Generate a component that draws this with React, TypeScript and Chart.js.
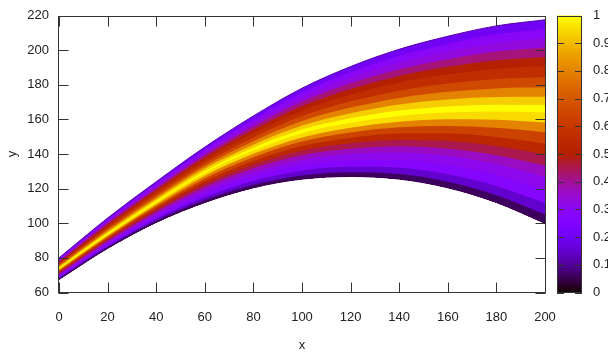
import React, { useEffect, useRef } from "react";
import { Chart, registerables } from "chart.js";

Chart.register(...registerables);

// x positions sampled along every curve
const xValues = [0, 20, 40, 60, 80, 100, 120, 140, 160, 180, 200];

// band boundary curves, from the lower edge of the fan to its upper edge
const lowerEdge = [67.5, 85.5, 100.5, 112, 120.5, 125.5, 127, 125.5, 120.5, 112, 100];
const curve01 = [68.0, 86.1, 101.4, 113.4, 122.2, 127.6, 129.5, 128.4, 124.0, 116.2, 105.1];
const curve02 = [68.6, 86.9, 102.6, 115.1, 124.4, 130.3, 132.6, 132.1, 128.3, 121.5, 111.5];
const curve03 = [69.4, 87.9, 104.0, 117.1, 127.0, 133.5, 136.3, 136.5, 133.6, 127.8, 119.2];
const curve04 = [70.2, 88.9, 105.3, 119.1, 129.5, 136.6, 140.0, 140.8, 138.8, 134.1, 126.9];
const curve05 = [70.8, 89.7, 106.5, 120.8, 131.7, 139.3, 143.1, 144.5, 143.1, 139.3, 133.3];
const curve06 = [71.4, 90.5, 107.6, 122.5, 133.8, 141.9, 146.2, 148.1, 147.5, 144.6, 139.7];
const curve07 = [72.0, 91.3, 108.8, 124.2, 136.0, 144.6, 149.3, 151.8, 151.8, 149.8, 146.1];
const curve08 = [72.7, 92.1, 109.9, 125.9, 138.1, 147.2, 152.4, 155.4, 156.2, 155.1, 152.5];
const curve09 = [73.2, 92.8, 111.0, 127.5, 140.1, 149.6, 155.2, 158.7, 160.1, 159.8, 158.2];
const centerLine = [73.8, 93.5, 112, 129, 142, 152, 158, 162, 164, 164.5, 164];
const curve11 = [74.3, 94.3, 113.0, 130.2, 143.6, 154.1, 160.6, 165.1, 167.5, 168.5, 168.3];
const curve12 = [74.9, 95.1, 114.0, 131.6, 145.4, 156.4, 163.5, 168.6, 171.5, 172.9, 173.1];
const curve13 = [75.5, 96.1, 115.2, 133.1, 147.4, 159.0, 166.8, 172.4, 175.9, 177.9, 178.5];
const curve14 = [76.2, 97.1, 116.6, 134.7, 149.6, 161.9, 170.4, 176.6, 180.7, 183.3, 184.3];
const curve15 = [76.9, 98.3, 118.0, 136.5, 152.0, 165.0, 174.3, 181.3, 186.0, 189.3, 190.8];
const curve16 = [77.5, 99.2, 119.2, 138.0, 154.0, 167.6, 177.5, 185.1, 190.4, 194.2, 196.1];
const curve17 = [78.1, 100.2, 120.4, 139.5, 156.0, 170.2, 180.8, 189.0, 194.8, 199.2, 201.5];
const curve18 = [78.8, 101.1, 121.6, 141.0, 158.0, 172.8, 184.0, 192.8, 199.2, 204.1, 206.8];
const curve19 = [79.4, 102.1, 122.8, 142.5, 160.0, 175.4, 187.3, 196.7, 203.6, 209.1, 212.2];
const upperEdge = [80, 103, 124, 144, 162, 178, 190.5, 200.5, 208, 214, 217.5];

const bandBoundaries = [
  lowerEdge, curve01, curve02, curve03, curve04, curve05, curve06, curve07, curve08, curve09,
  centerLine, curve11, curve12, curve13, curve14, curve15, curve16, curve17, curve18, curve19,
  upperEdge,
];

// colour value of the band lying just above each boundary (bottom to top)
const bandValues = [
  0.06, 0.15, 0.27, 0.31, 0.36, 0.45, 0.54, 0.64, 0.8, 0.95,
  1.0, 0.93, 0.8, 0.66, 0.56, 0.5, 0.42, 0.33, 0.29, 0.2,
];

const xRange = [0, 200];
const yRange = [60, 220];
const colorRange = [0, 1];
const xStep = 20;
const yStep = 20;
const colorStep = 0.1;

function palette(v: number): string {
  const t = Math.min(1, Math.max(0, v));
  const r = Math.sqrt(t);
  const g = t * t * t;
  const b = Math.max(0, Math.sin(2 * Math.PI * t));
  return `rgb(${Math.round(255 * r)},${Math.round(255 * g)},${Math.round(255 * b)})`;
}

const FONT = "'Liberation Sans', Arial, sans-serif";
const FRAME = "#333333";

const decorPlugin = {
  id: "decor",
  afterDraw(chart: any) {
    const { ctx, chartArea } = chart;
    const { left, right, top, bottom } = chartArea;
    const xs = chart.scales.x;
    const ys = chart.scales.y;
    const cb = chart.scales.cb;
    ctx.save();
    ctx.strokeStyle = FRAME;
    ctx.lineWidth = 1;
    const L = Math.round(left) - 0.5;
    const R = Math.round(right) + 0.5;
    const T = Math.round(top) + 0.5;
    const B = Math.round(bottom) - 0.5;
    ctx.strokeRect(L, T, R - L, B - T);
    const tl = 10;
    ctx.beginPath();
    xs.ticks.forEach((t: any) => {
      const px = Math.round(xs.getPixelForValue(t.value)) + 0.5;
      ctx.moveTo(px, B);
      ctx.lineTo(px, B - tl);
      ctx.moveTo(px, T);
      ctx.lineTo(px, T + tl);
    });
    ys.ticks.forEach((t: any) => {
      const py = Math.round(ys.getPixelForValue(t.value)) + 0.5;
      ctx.moveTo(L, py);
      ctx.lineTo(L + tl, py);
      ctx.moveTo(R, py);
      ctx.lineTo(R - tl, py);
    });
    ctx.stroke();

    // colour box
    const bx0 = Math.round(cb.left + 12);
    const bx1 = Math.round(cb.left + 37);
    const by0 = cb.getPixelForValue(colorRange[1]);
    const by1 = cb.getPixelForValue(colorRange[0]);
    const grad = ctx.createLinearGradient(0, by1, 0, by0);
    for (let k = 0; k <= 100; k++) {
      grad.addColorStop(k / 100, palette(k / 100));
    }
    ctx.fillStyle = grad;
    ctx.fillRect(bx0, by0, bx1 - bx0, by1 - by0);
    ctx.strokeStyle = FRAME;
    ctx.strokeRect(bx0 + 0.5, Math.round(by0) + 0.5, bx1 - bx0 - 1, Math.round(by1 - by0) - 1);
    ctx.beginPath();
    cb.ticks.forEach((t: any) => {
      const py = Math.round(cb.getPixelForValue(t.value)) + 0.5;
      ctx.moveTo(bx0, py);
      ctx.lineTo(bx0 + 7, py);
      ctx.moveTo(bx1, py);
      ctx.lineTo(bx1 - 7, py);
    });
    ctx.stroke();
    ctx.restore();
  },
};

export default function App() {
  const ref = useRef<HTMLCanvasElement | null>(null);
  useEffect(() => {
    if (!ref.current) return;
    const last = bandBoundaries.length - 1;
    const datasets = bandBoundaries.map((curve, i) => ({
      data: xValues.map((x, j) => ({ x, y: curve[j] })),
      borderWidth: 1,
      borderColor: i === 0 ? palette(0.05) : i === last ? palette(0.12) : "rgba(0,0,0,0)",
      backgroundColor: i === 0 ? "rgba(0,0,0,0)" : palette(bandValues[i - 1]),
      fill: i === 0 ? false : 0,
      pointRadius: 0,
      cubicInterpolationMode: "monotone" as const,
    }));
    const chart = new Chart(ref.current, {
      type: "line",
      data: { datasets },
      options: {
        animation: false,
        responsive: false,
        devicePixelRatio: 1,
        layout: { padding: { top: 15.5, left: 0, right: 0, bottom: 0 } },
        plugins: { legend: { display: false }, tooltip: { enabled: false } },
        scales: {
          x: {
            type: "linear",
            min: xRange[0],
            max: xRange[1],
            grid: { display: false, drawTicks: true, tickLength: 17 },
            border: { display: false },
            ticks: {
              stepSize: xStep,
              padding: 0,
              color: "#222",
              font: { family: FONT, size: 13 },
              maxRotation: 0,
            },
            title: {
              display: true,
              text: "x",
              color: "#222",
              font: { family: FONT, size: 13 },
              padding: { top: 0, bottom: 1 },
            },
            afterFit(scale: any) {
              scale.height = 61.5;
            },
          },
          y: {
            type: "linear",
            min: yRange[0],
            max: yRange[1],
            grid: { display: false, drawTicks: true, tickLength: 10 },
            border: { display: false },
            ticks: {
              stepSize: yStep,
              padding: 0,
              color: "#222",
              font: { family: FONT, size: 13 },
            },
            title: {
              display: true,
              text: "y",
              color: "#222",
              font: { family: FONT, size: 13 },
              padding: { top: 5, bottom: 0 },
            },
            afterFit(scale: any) {
              scale.width = 59;
            },
          },
          cb: {
            type: "linear",
            position: "right",
            min: colorRange[0],
            max: colorRange[1],
            grid: { display: false, drawTicks: true, tickLength: 48 },
            border: { display: false },
            ticks: {
              stepSize: colorStep,
              padding: 0,
              color: "#222",
              font: { family: FONT, size: 13 },
              callback: (v: any) => String(Math.round(Number(v) * 10) / 10),
            },
            afterFit(scale: any) {
              scale.width = 63;
            },
          },
        },
      },
      plugins: [decorPlugin],
    });
    return () => chart.destroy();
  }, []);
  return (
    <div style={{ position: "fixed", left: 0, top: 0, width: 608, height: 354, background: "#fff" }}>
      <canvas ref={ref} width={608} height={354} style={{ display: "block" }} />
    </div>
  );
}
